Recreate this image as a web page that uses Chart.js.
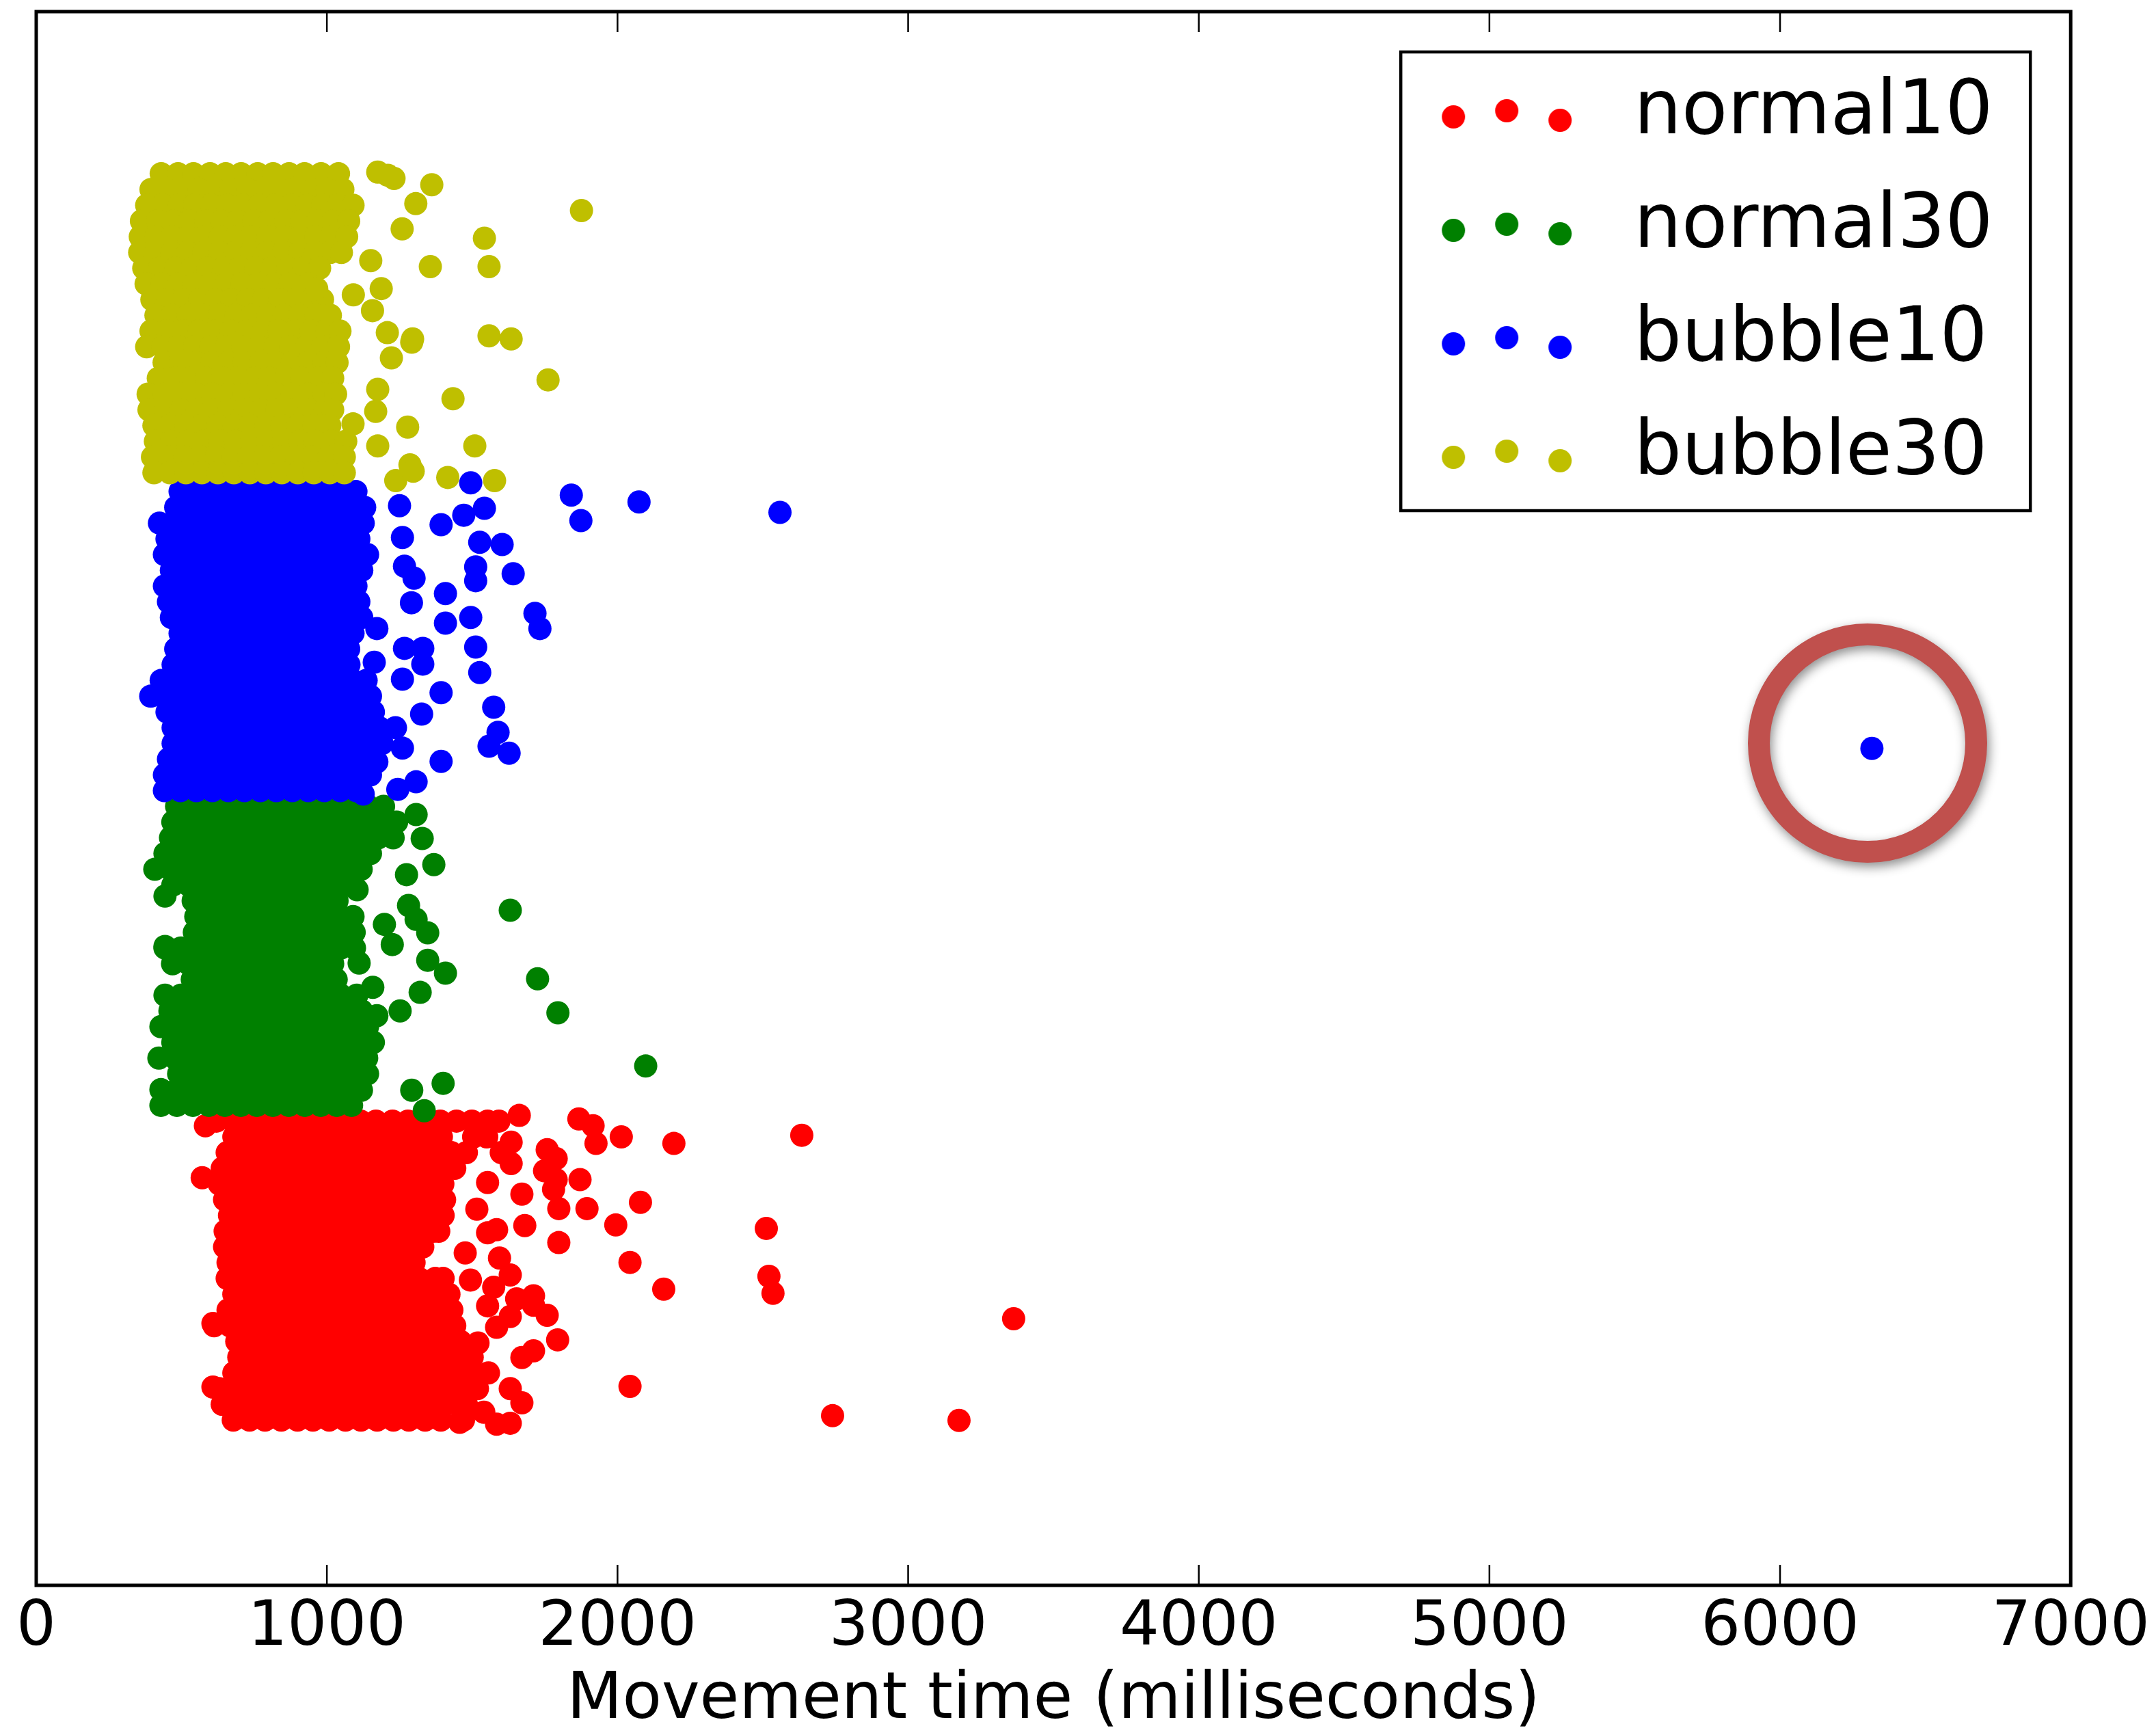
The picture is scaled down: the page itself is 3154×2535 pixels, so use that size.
<!DOCTYPE html>
<html><head><meta charset="utf-8">
<script src="https://cdn.jsdelivr.net/npm/chart.js@4.4.1/dist/chart.umd.min.js"></script>
<style>html,body{margin:0;padding:0;background:#fff;overflow:hidden}canvas{display:block}</style>
</head><body>
<canvas id="c" width="3154" height="2535"></canvas>
<script>
const seriesLabels = ['normal10', 'normal30', 'bubble10', 'bubble30'];
const seriesColors = ['#ff0000', '#008000', '#0000ff', '#bfbf00'];
const xTicks = [0, 1000, 2000, 3000, 4000, 5000, 6000, 7000];
const xTitle = 'Movement time (milliseconds)';

// dense cores: each row = [y, x1, x2, ...]
const normal10Rows = [
[0.975, 620, 676, 729, 786, 840, 894, 951, 1004, 1060, 1116, 1169, 1226, 1279, 1336, 1390, 1446, 1499, 1553, 1592],
[0.925, 680, 734, 791, 845, 899, 956, 1010, 1066, 1119, 1175, 1231, 1284, 1340, 1394, 1505, 1550],
[0.875, 657, 712, 768, 821, 877, 933, 986, 1042, 1098, 1151, 1207, 1263, 1316, 1372, 1428, 1480],
[0.825, 640, 696, 750, 805, 861, 914, 970, 1026, 1079, 1135, 1191, 1244, 1300, 1356, 1409, 1440],
[0.775, 630, 686, 739, 795, 851, 904, 960, 1016, 1069, 1125, 1181, 1234, 1290, 1346, 1399],
[0.725, 648, 704, 757, 813, 869, 922, 978, 1034, 1087, 1143, 1199, 1252, 1308, 1364, 1405],
[0.675, 665, 721, 774, 830, 886, 939, 995, 1051, 1104, 1160, 1216, 1269, 1325, 1381, 1400],
[0.625, 650, 706, 759, 815, 871, 924, 980, 1036, 1089, 1145, 1201, 1254, 1310, 1366, 1385],
[0.575, 648, 704, 757, 813, 869, 922, 978, 1034, 1087, 1143, 1199, 1252, 1308, 1330],
[0.525, 660, 716, 769, 825, 881, 934, 990, 1046, 1099, 1155, 1211, 1264, 1300],
[0.475, 657, 713, 766, 822, 878, 931, 987, 1043, 1096, 1152, 1208, 1261, 1317, 1373, 1400],
[0.425, 680, 736, 789, 845, 901, 954, 1010, 1066, 1119, 1175, 1231, 1284, 1340, 1396, 1420],
[0.375, 660, 716, 769, 825, 881, 934, 990, 1046, 1099, 1155, 1211, 1264, 1320, 1376, 1430],
[0.325, 612, 666, 719, 775, 831, 884, 940, 996, 1049, 1105, 1161, 1214, 1270, 1326, 1379, 1440],
[0.275, 690, 746, 799, 855, 911, 964, 1020, 1076, 1129, 1185, 1241, 1294, 1350, 1406, 1460],
[0.225, 697, 753, 806, 862, 918, 971, 1027, 1083, 1136, 1192, 1248, 1301, 1357, 1413, 1466, 1500],
[0.175, 680, 736, 789, 845, 901, 954, 1010, 1066, 1119, 1175, 1231, 1284, 1340, 1396, 1449, 1503, 1556],
[0.125, 629, 685, 738, 794, 850, 903, 959, 1015, 1068, 1124, 1180, 1233, 1289, 1345, 1398, 1452, 1518],
[0.075, 640, 696, 749, 805, 861, 914, 970, 1026, 1079, 1135, 1191, 1244, 1300, 1356, 1409, 1463, 1480],
[0.025, 678, 734, 787, 843, 899, 952, 1008, 1064, 1117, 1173, 1229, 1282, 1338, 1392, 1470]
];
const normal10Scatter = [
[582,0.96],[571,0.795],[608,0.332],[608,0.13],
[1662,0.993],[1867,0.982],[1916,0.96],[1926,0.904],[2013,0.925],[2194,0.904],[2634,0.93],
[1758,0.884],[1789,0.856],[1634,0.908],[1634,0.84],[1600,0.875],[1749,0.817],[1871,0.789],[1671,0.743],[1789,0.789],[1780,0.758],[1553,0.78],
[2079,0.717],[1895,0.697],[1798,0.697],[1994,0.645],[1681,0.643],[2512,0.634],[1798,0.589],[1516,0.695],[1553,0.62],[1584,0.63],
[1476,0.556],[1594,0.54],[2043,0.526],[1494,0.47],[1574,0.447],[1631,0.486],[2521,0.482],[2535,0.428],[2159,0.441],[1653,0.41],[1711,0.42],
[1553,0.388],[1631,0.354],[1711,0.39],[1758,0.358],[3363,0.347],[1584,0.32],[1794,0.28],[1711,0.245],[1671,0.224],[1520,0.27],
[2043,0.132],[1631,0.125],[1671,0.08],[2740,0.039],[3175,0.024],[1631,0.015],[1584,0.012],[1457,0.018],[1540,0.05]
];

const normal30Rows = [
[1.975, 483, 538, 593, 648, 703, 758, 813, 868, 923, 978, 1033, 1088, 1143, 1195],
[1.925, 470, 525, 580, 635, 690, 745, 800, 855, 910, 965, 1020, 1075, 1130, 1185, 1240],
[1.875, 462, 517, 572, 627, 682, 737, 792, 847, 902, 957, 1012, 1067, 1122, 1177, 1228],
[1.825, 443, 498, 553, 608, 663, 718, 773, 828, 883, 938, 993, 1048, 1103, 1150],
[1.775, 408, 463, 518, 573, 628, 683, 738, 793, 848, 903, 958, 1013, 1068, 1118],
[1.725, 470, 525, 580, 635, 690, 745, 800, 855, 910, 965, 1020, 1075],
[1.675, 540, 595, 650, 705, 760, 815, 870, 925, 980, 1035],
[1.625, 549, 604, 659, 714, 769, 824, 879, 934, 989, 1044, 1090],
[1.575, 544, 599, 654, 709, 764, 819, 874, 929, 984, 1039, 1094],
[1.525, 443, 498, 553, 608, 663, 718, 773, 828, 883, 938, 993, 1048, 1095],
[1.475, 469, 524, 579, 634, 689, 744, 799, 854, 909, 964, 1020],
[1.425, 537, 592, 647, 702, 757, 812, 867, 922, 977, 1032],
[1.375, 443, 498, 553, 608, 663, 718, 773, 828, 883, 938, 993, 1048, 1103],
[1.325, 460, 515, 570, 625, 680, 735, 790, 845, 900, 955, 1010, 1065, 1120],
[1.275, 429, 484, 539, 594, 649, 704, 759, 814, 869, 924, 979, 1034, 1089, 1140],
[1.225, 470, 525, 580, 635, 690, 745, 800, 855, 910, 965, 1020, 1075, 1130, 1160],
[1.175, 422, 477, 532, 587, 642, 697, 752, 807, 862, 917, 972, 1027, 1082, 1137],
[1.125, 490, 545, 600, 655, 710, 765, 820, 875, 930, 985, 1040, 1095, 1140],
[1.075, 429, 484, 539, 594, 649, 704, 759, 814, 869, 924, 979, 1034, 1089],
[1.025, 429, 484, 539, 594, 649, 704, 759, 814, 869, 924, 979, 1034, 1085]
];
const normal30Scatter = [
[443,1.69],[443,1.53],
[1307,1.949],[1328,1.873],[1368,1.79],[1274,1.758],[1104,1.71],
[1281,1.66],[1198,1.60],[1225,1.536],[1347,1.573],[1307,1.616],[1631,1.645],
[1111,1.477],[1408,1.445],[1347,1.486],[1725,1.427],[1795,1.319],
[1158,1.40],[1321,1.384],[1252,1.325],[1172,1.31],
[2097,1.15],[1400,1.095],[1292,1.073],[1335,1.008],[1119,1.073]
];

const bubble10Rows = [
[2.975, 495, 550, 605, 660, 715, 770, 825, 880, 935, 990, 1045, 1100],
[2.925, 480, 535, 590, 645, 700, 755, 810, 865, 920, 975, 1030, 1085, 1130],
[2.875, 424, 478, 533, 588, 643, 698, 753, 808, 863, 918, 973, 1028, 1083, 1125],
[2.825, 450, 505, 560, 615, 670, 725, 780, 835, 890, 945, 1000, 1055, 1110],
[2.775, 441, 496, 551, 606, 661, 716, 771, 826, 881, 936, 991, 1046, 1101, 1140],
[2.725, 465, 520, 575, 630, 685, 740, 795, 850, 905, 960, 1015, 1070, 1120],
[2.675, 441, 496, 551, 606, 661, 716, 771, 826, 881, 936, 991, 1046, 1100],
[2.625, 455, 510, 565, 620, 675, 730, 785, 840, 895, 950, 1005, 1055, 1110],
[2.575, 465, 520, 575, 630, 685, 740, 795, 850, 905, 960, 1015, 1070, 1120],
[2.525, 495, 550, 605, 660, 715, 770, 825, 880, 935, 990, 1045, 1090],
[2.475, 480, 535, 590, 645, 700, 755, 810, 865, 920, 975, 1030, 1075],
[2.425, 471, 526, 581, 636, 691, 746, 801, 856, 911, 966, 1021, 1076],
[2.375, 430, 485, 540, 595, 650, 705, 760, 815, 870, 925, 980, 1035, 1090, 1135],
[2.325, 394, 450, 505, 560, 615, 670, 725, 780, 835, 890, 945, 1000, 1055, 1110, 1150],
[2.275, 450, 505, 560, 615, 670, 725, 780, 835, 890, 945, 1000, 1055, 1110, 1160],
[2.225, 471, 526, 581, 636, 691, 746, 801, 856, 911, 966, 1021, 1076, 1131, 1180],
[2.175, 471, 526, 581, 636, 691, 746, 801, 856, 911, 966, 1021, 1076, 1131, 1190],
[2.125, 455, 510, 565, 620, 675, 730, 785, 840, 895, 950, 1005, 1060, 1115, 1165],
[2.075, 441, 496, 551, 606, 661, 716, 771, 826, 881, 936, 991, 1046, 1101, 1150],
[2.025, 441, 496, 551, 606, 661, 716, 771, 826, 881, 936, 991, 1046, 1101]
];
const bubble10Scatter = [
[1250,2.93],[1495,3.003],[1841,2.964],[2074,2.942],[2559,2.909],[1874,2.883],[1542,2.922],[1471,2.90],[1393,2.87],
[1260,2.829],[1526,2.814],[1603,2.807],[1267,2.738],[1300,2.70],[1512,2.736],[1641,2.714],[1512,2.692],[1408,2.651],[1291,2.622],
[1716,2.588],[1733,2.54],[1408,2.557],[1495,2.575],[1172,2.54],[1512,2.481],[1267,2.477],[1330,2.477],[1330,2.427],[1526,2.40],
[1260,2.379],[1163,2.433],[1393,2.336],[1574,2.29],[1326,2.268],[1236,2.225],[1589,2.21],[1558,2.166],[1627,2.144],[1393,2.118],
[1260,2.16],[1307,2.053],[1244,2.029],[1125,2.014],[1172,2.116],[6316,2.159]
];

const bubble30Rows = [
[3.985, 430, 488, 541, 598, 652, 705, 762, 815, 870, 923, 980, 1040],
[3.935, 395, 450, 506, 560, 617, 670, 727, 780, 838, 890, 947, 1000, 1055],
[3.885, 380, 436, 492, 545, 603, 657, 712, 768, 822, 877, 932, 985, 1040, 1090],
[3.835, 362, 418, 472, 527, 583, 637, 693, 748, 803, 858, 912, 968, 1022, 1075],
[3.785, 358, 412, 468, 523, 578, 633, 688, 742, 797, 852, 907, 962, 1015, 1068],
[3.735, 356, 410, 466, 520, 576, 630, 685, 740, 795, 850, 905, 960, 1012, 1050],
[3.685, 370, 425, 480, 535, 590, 645, 700, 755, 810, 865, 920, 975],
[3.635, 378, 433, 488, 543, 598, 653, 708, 763, 818, 873, 935],
[3.585, 398, 452, 507, 562, 617, 672, 727, 782, 837, 892, 947, 985],
[3.535, 412, 467, 522, 577, 632, 687, 742, 797, 852, 907, 962, 1012],
[3.485, 395, 450, 505, 560, 615, 670, 725, 780, 835, 890, 945, 1000, 1045],
[3.435, 380, 435, 490, 545, 600, 655, 710, 765, 820, 875, 930, 985, 1040],
[3.385, 440, 495, 550, 605, 660, 715, 770, 825, 880, 935, 990, 1035],
[3.335, 420, 475, 530, 585, 640, 695, 750, 805, 860, 915, 970, 1020],
[3.285, 385, 440, 495, 550, 605, 660, 715, 770, 825, 880, 935, 990, 1030],
[3.235, 388, 443, 498, 553, 608, 663, 718, 773, 828, 883, 938, 993, 1020],
[3.185, 405, 460, 515, 570, 625, 680, 735, 790, 845, 900, 955, 1010],
[3.135, 410, 465, 520, 575, 630, 685, 740, 795, 850, 905, 960, 1015, 1065],
[3.085, 400, 455, 510, 565, 620, 675, 730, 785, 840, 895, 950, 1005, 1060],
[3.035, 405, 460, 515, 570, 625, 680, 735, 790, 845, 900, 955, 1010, 1060]
];
const bubble30Scatter = [
[1175,3.99],[1231,3.97],[1306,3.89],[1259,3.81],[1361,3.95],[1210,3.98],[1876,3.868],[1542,3.78],[1558,3.69],[1356,3.69],
[1151,3.709],[1091,3.60],[1187,3.62],[1157,3.55],[965,3.62],
[1208,3.48],[1292,3.45],[1222,3.40],[1175,3.30],[1168,3.23],[1090,3.19],[1278,3.18],[1175,3.12],
[1295,3.46],[1558,3.47],[1634,3.46],[1761,3.33],[1434,3.27],[1509,3.12],[1286,3.06],[1416,3.02],[1577,3.01],[1237,3.01],[1297,3.04]
];

// annotation: ring drawn around the lone bubble10 outlier
const ringCenter = [6301, 2.176];

function buildPoints(rows, scatter) {
  const pts = [];
  rows.forEach(r => { for (let i = 1; i < r.length; i++) pts.push({x: r[i], y: r[0]}); });
  scatter.forEach(p => pts.push({x: p[0], y: p[1]}));
  return pts;
}
const seriesPoints = [
  buildPoints(normal10Rows, normal10Scatter),
  buildPoints(normal30Rows, normal30Scatter),
  buildPoints(bubble10Rows, bubble10Scatter),
  buildPoints(bubble30Rows, bubble30Scatter)
];

function legendSwatch(color) {
  const c = document.createElement('canvas');
  c.width = 240; c.height = 100;
  const g = c.getContext('2d');
  g.fillStyle = color;
  [[42, 55], [120, 46], [198, 60]].forEach(([x, y]) => { g.beginPath(); g.arc(x, y, 17, 0, Math.PI * 2); g.fill(); });
  return c;
}
const swatches = seriesColors.map(legendSwatch);

Chart.defaults.font.family = "'DejaVu Sans', sans-serif";
Chart.defaults.color = '#000';

const decor = {
  id: 'decor',
  afterLayout(chart) {
    const lg = chart.legend, ca = chart.chartArea;
    const pad = lg.options.labels.padding;
    lg.left = ca.right - 956 - pad;
    lg.top = ca.top + 38;
    lg.right = ca.right;
    lg.bottom = lg.top + 900;
    lg.width = lg.right - lg.left;
    lg.height = lg.bottom - lg.top;
  },
  afterDraw(chart) {
    const ctx = chart.ctx, ca = chart.chartArea, xs = chart.scales.x, ys = chart.scales.y;
    ctx.save();
    // ticks inside, top and bottom
    ctx.strokeStyle = '#000';
    ctx.lineWidth = 2.5;
    xTicks.forEach(v => {
      const px = xs.getPixelForValue(v);
      ctx.beginPath();
      ctx.moveTo(px, ca.bottom); ctx.lineTo(px, ca.bottom - 30);
      ctx.moveTo(px, ca.top); ctx.lineTo(px, ca.top + 30);
      ctx.stroke();
    });
    // frame
    ctx.lineWidth = 5;
    ctx.strokeRect(ca.left, ca.top, ca.right - ca.left, ca.bottom - ca.top);
    // legend frame
    ctx.lineWidth = 4.5;
    ctx.strokeRect(ca.right - 980, ca.top + 59, 921, 671);
    // highlight ring
    const cx = xs.getPixelForValue(ringCenter[0]);
    const cy = ys.getPixelForValue(ringCenter[1]);
    ctx.shadowColor = 'rgba(0,0,0,0.45)';
    ctx.shadowBlur = 16;
    ctx.shadowOffsetX = 3;
    ctx.shadowOffsetY = 6;
    ctx.strokeStyle = '#c0504d';
    ctx.lineWidth = 32;
    ctx.beginPath();
    ctx.arc(cx, cy, 159, 0, Math.PI * 2);
    ctx.stroke();
    ctx.restore();
  }
};

new Chart(document.getElementById('c'), {
  type: 'scatter',
  data: {
    datasets: seriesLabels.map((name, i) => ({
      label: name,
      data: seriesPoints[i],
      backgroundColor: seriesColors[i],
      borderWidth: 0,
      pointRadius: 17,
      pointHoverRadius: 17,
      pointStyle: 'circle',
      order: 4 - i
    }))
  },
  options: {
    responsive: false,
    animation: false,
    devicePixelRatio: 1,
    layout: {padding: {left: 53, right: 124, top: 17, bottom: 0}},
    scales: {
      x: {
        type: 'linear', min: 0, max: 7000,
        afterBuildTicks: s => { s.ticks = xTicks.map(v => ({value: v})); },
        afterFit: s => { s.height = 216; },
        grid: {display: false, drawTicks: false},
        border: {display: false},
        ticks: {callback: v => String(v), font: {size: 91}, color: '#000', padding: 9, maxRotation: 0, autoSkip: false},
        title: {display: true, text: xTitle, font: {size: 94}, color: '#000', padding: {top: 0, bottom: -10}}
      },
      y: {type: 'linear', min: -0.5, max: 4.5, display: false}
    },
    plugins: {
      tooltip: {enabled: false},
      legend: {
        display: true,
        position: 'chartArea',
        align: 'start',
        labels: {
          usePointStyle: true,
          pointStyleWidth: 262,
          padding: 56,
          color: '#000',
          font: {size: 110},
          sort: (a, b) => a.datasetIndex - b.datasetIndex,
          generateLabels: chart => Chart.defaults.plugins.legend.labels.generateLabels(chart).map(item => Object.assign(item, {pointStyle: swatches[item.datasetIndex]}))
        }
      }
    }
  },
  plugins: [decor]
});
</script>
</body></html>
